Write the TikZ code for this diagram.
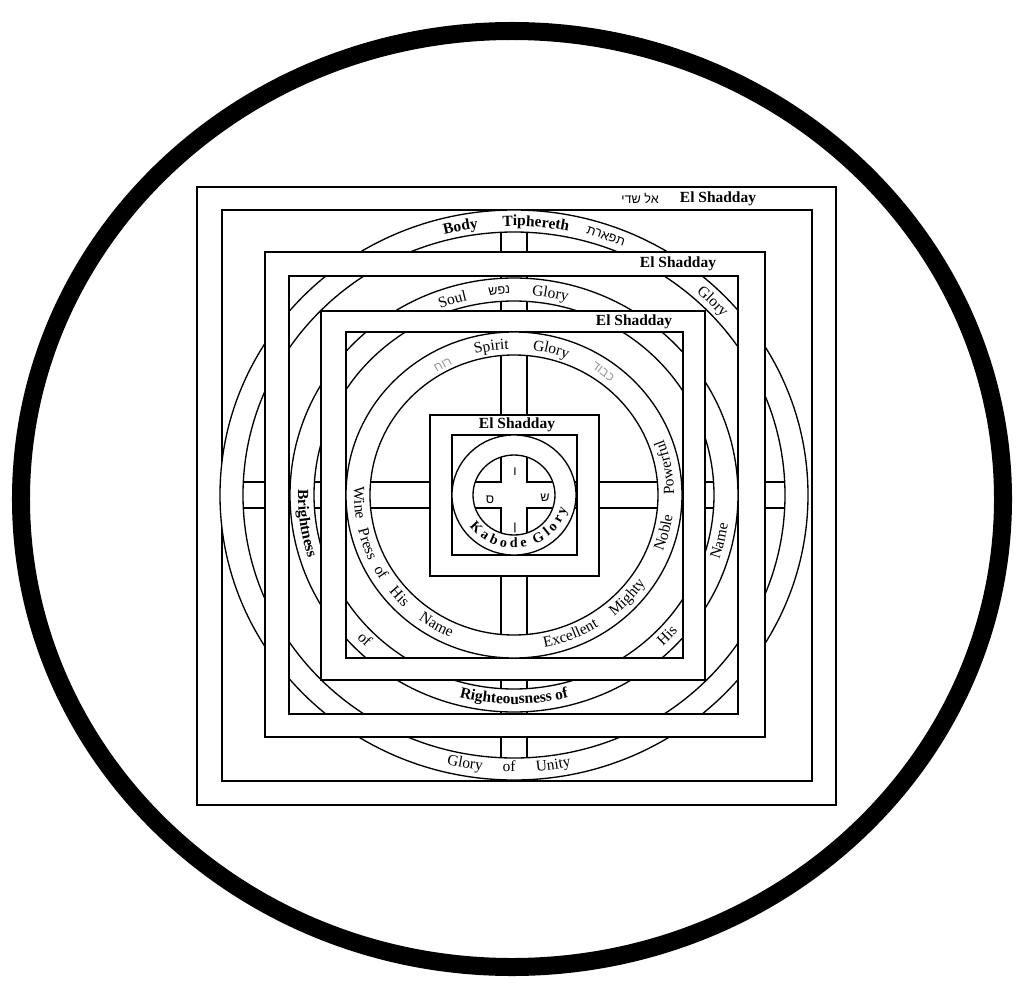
\documentclass[tikz,border=0pt]{standalone}
\usepackage{fontspec}
\setmainfont{Liberation Serif}
\newfontfamily\hebfont[Script=Hebrew]{Liberation Sans}
\TeXXeTstate=1
\usetikzlibrary{decorations.text}

\newcommand\lblfont{\bfseries\fontsize{11}{13}\selectfont}
\newcommand\ringfont{\fontsize{11}{13}\selectfont}
\newcommand\smallring{\bfseries\fontsize{10}{12}\selectfont}
% word on an elliptic arc: rx, ry, from, to, font, text
\newcommand\arcword[6]{%
  \path[decorate,decoration={text along path,text align=center,text={|#5|#6}}]
    (#3:#1 and #2) arc[start angle=#3,end angle=#4,x radius=#1,y radius=#2];}

\begin{document}
\begin{tikzpicture}[x=0.025cm,y=0.025cm,
  every node/.style={font=\lblfont,inner sep=0pt},
  band/.style={draw,fill=white,even odd rule,line width=0.95pt},
  ring/.style={draw,fill=white,even odd rule,line width=0.95pt},
  heb/.style={font=\hebfont\fontsize{9}{9}\selectfont},
  faint/.style={heb,text=black!40}
]
\useasboundingbox (-514,-492) rectangle (502,495);
\draw[line width=0.45cm] (-2,-4) ellipse [x radius=491,y radius=468];

% frames and rings, outermost first
\path[band] (-317,-310) rectangle (322,308) (-292,-286) rectangle (298,285);
\begin{scope}
  \clip (0,0) ellipse [x radius=282,y radius=274];
  \draw[line width=0.95pt] (-13,300) -- (13,300) -- (13,13) -- (300,13) -- (300,-13)
    -- (13,-13) -- (13,-300) -- (-13,-300) -- (-13,-13) -- (-300,-13) -- (-300,13)
    -- (-13,13) -- cycle;
\end{scope}
\path[ring] (0,0) ellipse [x radius=294,y radius=285] (0,0) ellipse [x radius=271,y radius=263];
\path[band] (-249,-242) rectangle (251,243) (-225,-219) rectangle (224,219);
\path[ring] (0,0) ellipse [x radius=224,y radius=217] (0,0) ellipse [x radius=200,y radius=194];
\path[band] (-193,-185) rectangle (191,184) (-168,-163) rectangle (169,163);
\path[ring] (0,0) ellipse [x radius=168,y radius=163] (0,0) ellipse [x radius=144,y radius=140];
\path[band] (-84,-81) rectangle (85,80) (-62,-60) rectangle (63,60);
\path[ring] (0,0) ellipse [x radius=62,y radius=60] (0,0) ellipse [x radius=41,y radius=40];

% El Shadday labels
\node (sA) at (204,296) {El Shadday};
\node[heb] (hA) at (126,297) {\beginR אל שדי\endR};
\node (sB) at (164,231) {El Shadday};
\node (sC) at (120,173) {El Shadday};
\node (sD) at (3,70) {El Shadday};

% ring 1
\arcword{277}{269}{113}{89}{\lblfont}{Body}
\arcword{277}{269}{101}{70}{\lblfont}{Tiphereth}
\node[heb,rotate=-19] (h1) at (71:282 and 274) {\beginR תפארת\endR};
\arcword{277}{269}{57}{33}{\ringfont}{Glory}
\arcword{286}{277}{250}{270}{\ringfont}{Glory}
\arcword{286}{277}{261}{277}{\ringfont}{of}
\arcword{286}{277}{268}{288}{\ringfont}{Unity}

% ring 2
\arcword{206}{200}{119}{95}{\ringfont}{Soul}
\node[heb,rotate=4] (h2) at (94:212 and 205) {\beginR נפש\endR};
\arcword{206}{200}{92}{68}{\ringfont}{Glory}
\arcword{216}{209}{168}{208}{\lblfont}{Brightness}
\arcword{216}{209}{335}{359}{\ringfont}{Name}
\arcword{216}{209}{245}{295}{\lblfont}{Righteousness of}
\arcword{216}{209}{213}{237}{\ringfont}{of}
\arcword{216}{209}{305}{328}{\ringfont}{His}

% ring 3
\arcword{150}{146}{112}{85}{\ringfont}{Spirit}
\arcword{150}{146}{89}{63}{\ringfont}{Glory}
\node[faint,rotate=28.6] (h3) at (-71,130) {\beginR רוח\endR};
\node[faint,rotate=-36] (h4) at (89,123) {\beginR כבוד\endR};
\arcword{160}{155}{171}{195}{\ringfont}{Wine}
\arcword{160}{155}{187}{211}{\ringfont}{Press}
\arcword{160}{155}{203}{219}{\ringfont}{of}
\arcword{160}{155}{212}{233}{\ringfont}{His}
\arcword{160}{155}{226}{254}{\ringfont}{Name}
\arcword{160}{155}{276}{307}{\ringfont}{Excellent}
\arcword{160}{155}{304}{330}{\ringfont}{Mighty}
\arcword{160}{155}{333}{358}{\ringfont}{Noble}
\arcword{160}{155}{355}{386}{\ringfont}{Powerful}

% ring 4 and the cross
\arcword{55}{53}{205}{295}{\smallring}{K a b o d e}
\arcword{55}{53}{280}{358}{\smallring}{G l o r y}
\node[heb] (q1) at (1,23) {ו};
\node[heb] (q2) at (-24,-5) {ס};
\node[heb] (q3) at (31,-3) {ש};
\node[heb] (q4) at (1,-33) {ן};
\end{tikzpicture}
\end{document}
